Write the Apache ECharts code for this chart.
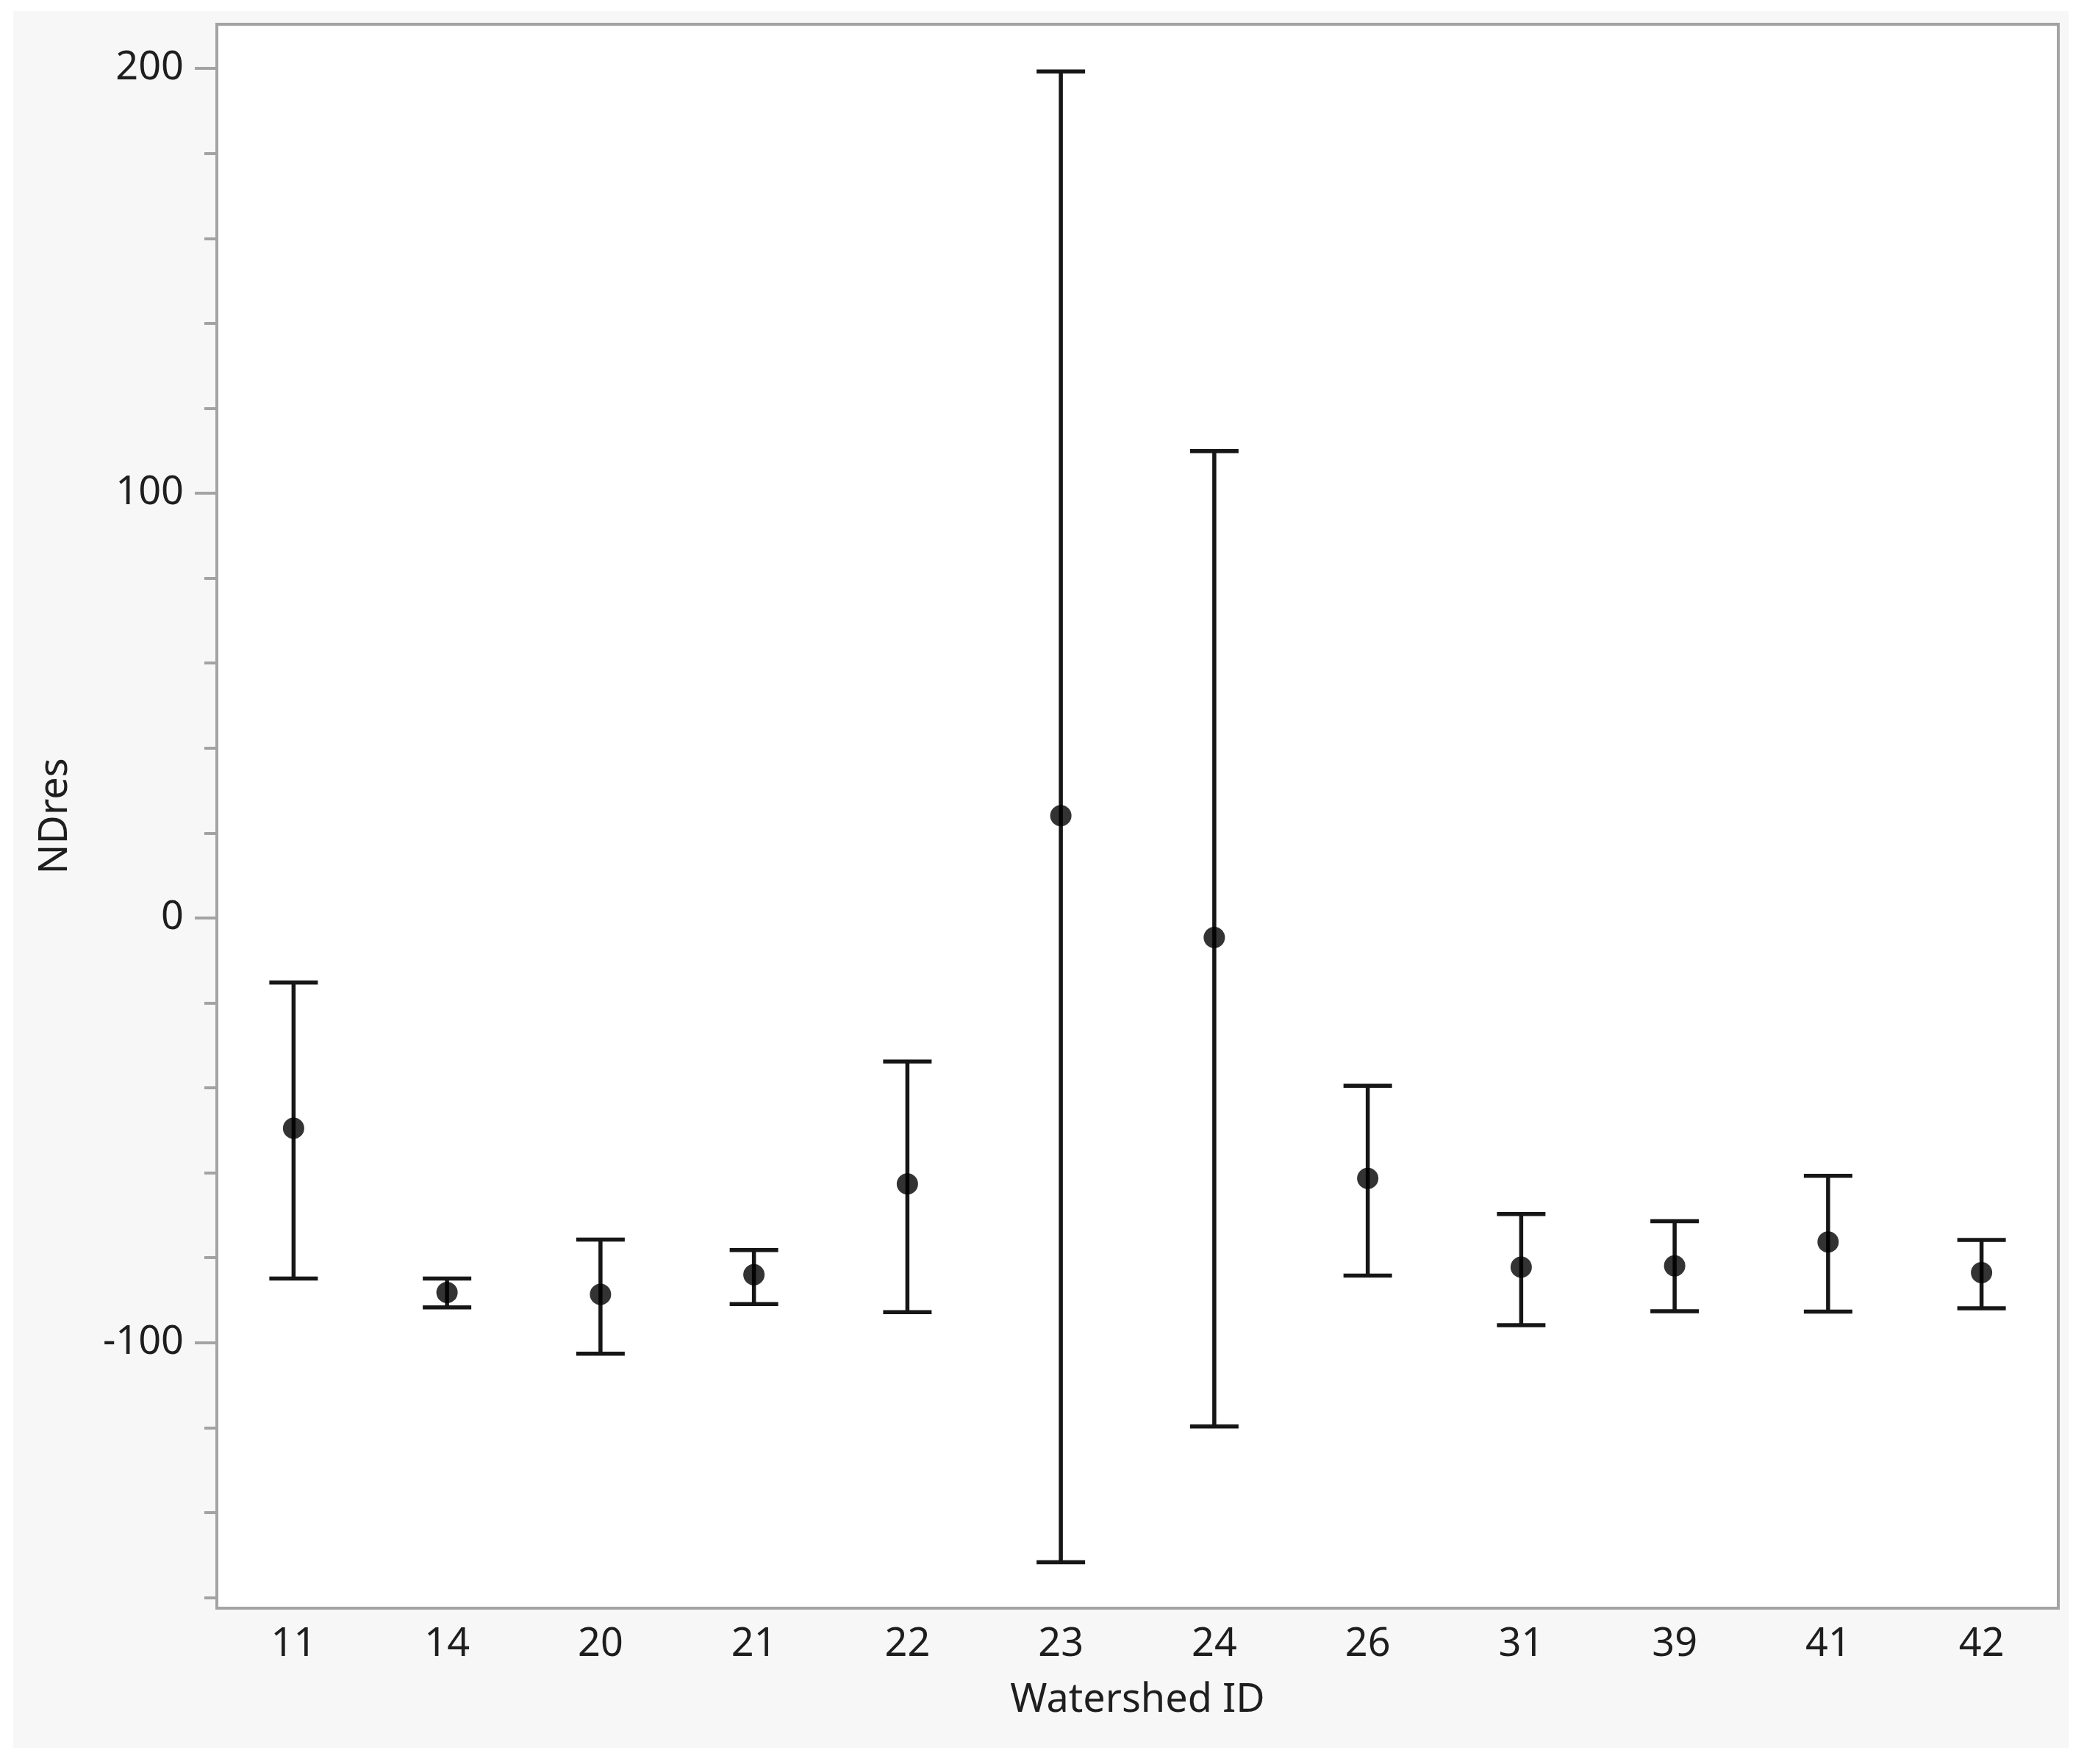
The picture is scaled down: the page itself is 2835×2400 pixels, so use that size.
<!DOCTYPE html>
<html>
<head>
<meta charset="utf-8">
<script src="https://cdn.jsdelivr.net/npm/echarts@6/dist/echarts.min.js"></script>
<style>
  html, body { margin: 0; padding: 0; background: #ffffff; }
  #chart { width: 2835px; height: 2400px; }
</style>
</head>
<body>
<div id="chart"></div>
<script>
// ---- data ----
const categories = ['11', '14', '20', '21', '22', '23', '24', '26', '31', '39', '41', '42'];
const means      = [-49.5, -88.2, -88.6, -84.0, -62.6, 24.1, -4.6, -61.3, -82.2, -81.9, -76.3, -83.5];
const upper      = [-15.2, -84.9, -75.7, -78.2, -33.8, 199.3, 109.9, -39.5, -69.7, -71.4, -60.7, -75.8];
const lower      = [-84.9, -91.7, -102.6, -90.9, -92.8, -151.7, -119.7, -84.2, -95.9, -92.6, -92.7, -91.9];
const yMajorTicks = [-100, 0, 100, 200];
const yMinorTicks = [-160, -140, -120, -80, -60, -40, -20, 20, 40, 60, 80, 120, 140, 160, 180];
const yMin = -162.5;
const yMax = 210.4;

const FONT = '"Noto Sans", "Open Sans", sans-serif';
const TEXT = '#1e1e1e';
const FRAME = '#a3a3a3';
const INK = '#161616';

const chart = echarts.init(document.getElementById('chart'), null, { renderer: 'canvas' });

const barData = categories.map((c, i) => [i, lower[i], upper[i]]);
const meanData = categories.map((c, i) => [i, means[i]]);

const option = {
  backgroundColor: '#ffffff',
  animation: false,
  graphic: [{
    type: 'rect',
    z: -100,
    silent: true,
    shape: { x: 18, y: 15, width: 2796, height: 2363 },
    style: { fill: '#f7f7f7' }
  }],
  grid: {
    left: 295, right: 35, top: 33, bottom: 212,
    outerBoundsMode: 'none',
    containLabel: false,
    show: true,
    backgroundColor: '#ffffff',
    borderColor: FRAME,
    borderWidth: 4
  },
  xAxis: {
    type: 'category',
    data: categories,
    boundaryGap: true,
    name: 'Watershed ID',
    nameLocation: 'middle',
    nameGap: 99,
    nameTextStyle: { fontFamily: FONT, fontSize: 54, color: TEXT },
    axisLine: { show: true, onZero: false, lineStyle: { color: FRAME, width: 4 } },
    axisTick: { show: false },
    axisLabel: { fontFamily: FONT, fontSize: 54, color: TEXT, margin: 23 },
    splitLine: { show: false }
  },
  yAxis: [{
    type: 'value',
    min: yMin, max: yMax,
    position: 'left',
    name: 'NDres',
    nameLocation: 'middle',
    nameGap: 192,
    nameRotate: 90,
    nameTextStyle: { fontFamily: FONT, fontSize: 54, color: TEXT },
    axisLine: { show: true, onZero: false, lineStyle: { color: FRAME, width: 4 } },
    axisTick: { show: true, customValues: yMajorTicks, length: 30, lineStyle: { color: FRAME, width: 4 } },
    axisLabel: { customValues: yMajorTicks, fontFamily: FONT, fontSize: 54, color: TEXT, margin: 45 },
    splitLine: { show: false }
  }, {
    type: 'value',
    min: yMin, max: yMax,
    position: 'left',
    axisLine: { show: false, onZero: false },
    axisTick: { show: true, customValues: yMinorTicks, length: 17, lineStyle: { color: FRAME, width: 4 } },
    axisLabel: { show: false },
    splitLine: { show: false }
  }],
  series: [{
    type: 'custom',
    yAxisIndex: 0,
    data: barData,
    encode: { x: 0, y: [1, 2] },
    renderItem: function (params, api) {
      const xi = api.value(0);
      const lo = api.coord([xi, api.value(1)]);
      const hi = api.coord([xi, api.value(2)]);
      const half = 33;
      const style = { stroke: INK, lineWidth: 5.5, fill: null };
      return {
        type: 'group',
        children: [
          { type: 'line', shape: { x1: lo[0], y1: lo[1], x2: hi[0], y2: hi[1] }, style: style },
          { type: 'line', shape: { x1: hi[0] - half, y1: hi[1], x2: hi[0] + half, y2: hi[1] }, style: style },
          { type: 'line', shape: { x1: lo[0] - half, y1: lo[1], x2: lo[0] + half, y2: lo[1] }, style: style }
        ]
      };
    },
    z: 2
  }, {
    type: 'scatter',
    yAxisIndex: 0,
    data: meanData,
    symbol: 'circle',
    symbolSize: 29,
    itemStyle: { color: '#000000' },
    z: 3
  }]
};

chart.setOption(option);
</script>
</body>
</html>
